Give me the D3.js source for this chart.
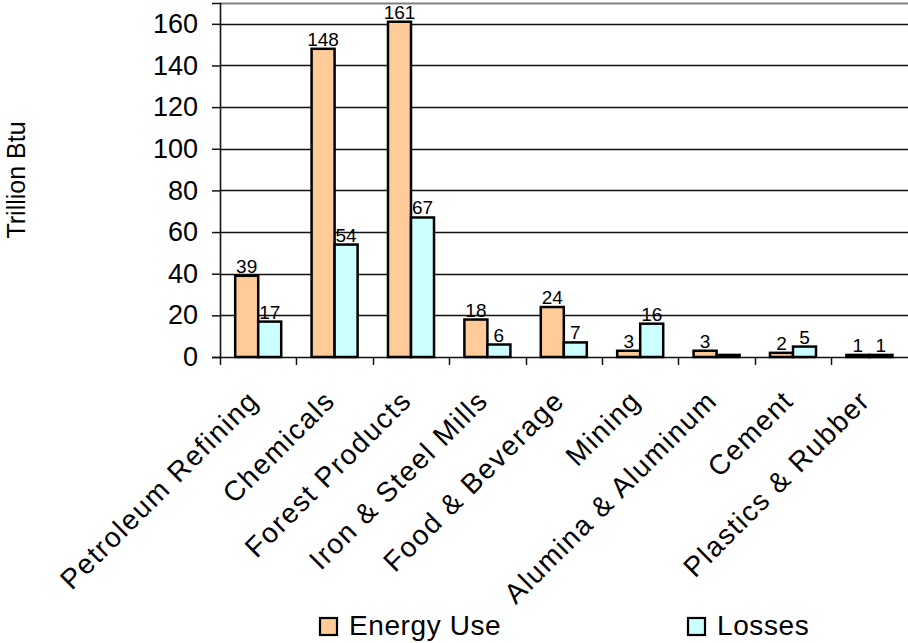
<!DOCTYPE html>
<html>
<head>
<meta charset="utf-8">
<script src="https://cdn.jsdelivr.net/npm/d3@7"></script>
<style>
  html, body { margin: 0; padding: 0; background: #fff; }
  svg { display: block; font-family: "Liberation Sans", Arial, sans-serif; }
</style>
</head>
<body>
<svg id="chart" width="908" height="643"></svg>
<script>
const categories = ["Petroleum Refining", "Chemicals", "Forest Products", "Iron & Steel Mills",
  "Food & Beverage", "Mining", "Alumina & Aluminum", "Cement", "Plastics & Rubber"];
const seriesNames = ["Energy Use", "Losses"];
const energyUse = [39, 148, 161, 18, 24, 3, 3, 2, 1];
const losses = [17, 54, 67, 6, 7, 16, 1, 5, 1];
const energyLabels = ["39", "148", "161", "18", "24", "3", "3", "2", "1"];
const lossLabels = ["17", "54", "67", "6", "7", "16", "", "5", "1"];
const yTicks = [0, 20, 40, 60, 80, 100, 120, 140, 160];
const yTitle = "Trillion Btu";
const colors = ["#FFCC99", "#CCFFFF"];

(function () {
const svg = d3.select("#chart");
const pLeft = 220, pRight = 907.6, pTop = 3, pBottom = 357;

const x = d3.scaleBand().domain(categories).range([pLeft, pRight]).padding(0);
const xs = d3.scaleBand().domain(seriesNames).range([0, x.bandwidth()]).paddingInner(0).paddingOuter(0.66);
const y = d3.scaleLinear().domain([0, 170]).range([pBottom, pTop]);

// top border of plot area
svg.append("line").attr("x1", pLeft).attr("x2", 908).attr("y1", pTop + 0.5).attr("y2", pTop + 0.5)
  .attr("stroke", "#808080").attr("stroke-width", 2);

// gridlines
svg.append("g").selectAll("line").data(yTicks.filter(d => d > 0)).join("line")
  .attr("x1", pLeft).attr("x2", 908)
  .attr("y1", d => Math.round(y(d)) + 0.5).attr("y2", d => Math.round(y(d)) + 0.5)
  .attr("stroke", "#111").attr("stroke-width", 1.5);

// y axis
const yAxis = d3.axisLeft(y).tickValues(yTicks).tickSize(8).tickPadding(14).tickFormat(d3.format("d"));
const gy = svg.append("g").attr("transform", `translate(${pLeft},0)`).call(yAxis);
gy.select(".domain").attr("stroke", "#111").attr("stroke-width", 1.6);
gy.selectAll(".tick line").attr("stroke", "#111").attr("stroke-width", 1.5);
gy.selectAll(".tick text").attr("font-size", 27).attr("fill", "#000")
  .attr("font-family", "Liberation Sans, Arial, sans-serif");

// x axis
const xAxis = d3.axisBottom(x).tickSize(0).tickFormat("");
const gx = svg.append("g").attr("transform", `translate(0,${pBottom})`).call(xAxis);
gx.select(".domain").attr("stroke", "#111").attr("stroke-width", 1.6);
// tick marks between categories
svg.append("g").selectAll("line").data(categories).join("line")
  .attr("x1", d => Math.round(x(d)) + 0.5).attr("x2", d => Math.round(x(d)) + 0.5)
  .attr("y1", pBottom).attr("y2", pBottom + 8)
  .attr("stroke", "#111").attr("stroke-width", 1.5);

// category labels
svg.append("g").selectAll("text").data(categories).join("text")
  .attr("transform", d => `translate(${x(d) + x.bandwidth() / 2 - 12},${pBottom + 31}) rotate(-45)`)
  .attr("text-anchor", "end").attr("dy", "0.72em")
  .attr("font-size", 28).attr("letter-spacing", 1.6).attr("fill", "#000")
  .text(d => d);

// bars
const series = [energyUse, losses];
const labels = [energyLabels, lossLabels];
series.forEach((vals, si) => {
  const g = svg.append("g");
  g.selectAll("rect").data(categories).join("rect")
    .attr("x", (d, i) => x(d) + xs(seriesNames[si]))
    .attr("y", (d, i) => y(vals[i]))
    .attr("width", xs.bandwidth())
    .attr("height", (d, i) => pBottom - y(vals[i]))
    .attr("fill", colors[si]).attr("stroke", "#000").attr("stroke-width", 2.5);
  g.selectAll("text").data(categories).join("text")
    .attr("x", (d, i) => x(d) + xs(seriesNames[si]) + xs.bandwidth() / 2)
    .attr("y", (d, i) => y(vals[i]) - 3)
    .attr("text-anchor", "middle").attr("font-size", 19).attr("fill", "#000")
    .text((d, i) => labels[si][i]);
});

// y title
svg.append("text").attr("transform", "translate(25,180) rotate(-90)")
  .attr("text-anchor", "middle").attr("font-size", 25).attr("fill", "#000")
  .text(yTitle);

// legend
const legendX = [320, 688];
const lg = svg.append("g").selectAll("g").data(seriesNames).join("g")
  .attr("transform", (d, i) => `translate(${legendX[i]},618)`);
lg.append("rect").attr("width", 17).attr("height", 17)
  .attr("fill", (d, i) => colors[i]).attr("stroke", "#000").attr("stroke-width", 2.2);
lg.append("text").attr("x", 29).attr("y", 17).attr("font-size", 28).attr("letter-spacing", 0.6)
  .attr("fill", "#000")
  .text(d => d);
})();
</script>
</body>
</html>
